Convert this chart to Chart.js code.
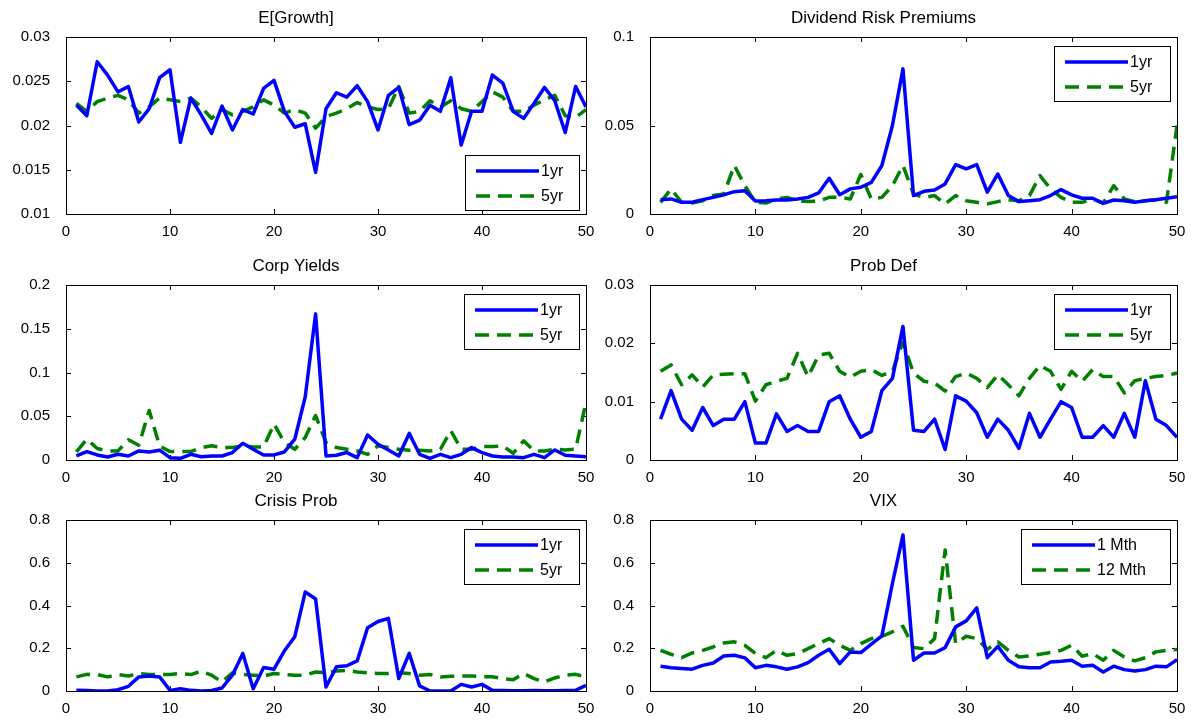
<!DOCTYPE html>
<html>
<head>
<meta charset="utf-8">
<script src="https://cdn.jsdelivr.net/npm/chart.js@4.4.1/dist/chart.umd.min.js"></script>
<style>
  body { margin: 0; background: #fff; }
  #fig { position: relative; width: 1196px; height: 723px; background: #fff; }
  .panel { position: absolute; }
</style>
</head>
<body>
<div id="fig"></div>
<script>
// x axis: forecast periods 1..50
const periods = Array.from({ length: 50 }, (_, i) => i + 1);

const growth1yr = [0.0223, 0.0211, 0.0272, 0.0257, 0.0238, 0.0244, 0.0204, 0.0219, 0.0254, 0.0263,
  0.0181, 0.0231, 0.0212, 0.0191, 0.0222, 0.0195, 0.0218, 0.0213, 0.0242, 0.0251,
  0.0216, 0.0198, 0.0202, 0.0147, 0.0219, 0.0237, 0.0232, 0.0245, 0.0227, 0.0195,
  0.0234, 0.0243, 0.0201, 0.0206, 0.0223, 0.0216, 0.0254, 0.0178, 0.0216, 0.0216,
  0.0257, 0.0248, 0.0216, 0.0208, 0.0225, 0.0243, 0.0228, 0.0192, 0.0244, 0.0221];
const growth5yr = [0.0225, 0.0216, 0.0227, 0.0231, 0.0234, 0.0229, 0.0214, 0.0221, 0.0231, 0.0229,
  0.0227, 0.0231, 0.0221, 0.0208, 0.0218, 0.0212, 0.0216, 0.0221, 0.0229, 0.0223,
  0.0214, 0.0218, 0.0214, 0.0197, 0.0210, 0.0214, 0.0219, 0.0226, 0.0221, 0.0218,
  0.0219, 0.0244, 0.0214, 0.0216, 0.0228, 0.0221, 0.0228, 0.0219, 0.0216, 0.0227,
  0.0238, 0.0232, 0.0216, 0.0216, 0.0223, 0.0229, 0.0234, 0.0211, 0.0209, 0.0218];

const div1yr = [0.0081, 0.0085, 0.0066, 0.0066, 0.0081, 0.0094, 0.0108, 0.0126, 0.0132, 0.0074,
  0.0075, 0.0079, 0.0079, 0.0085, 0.0094, 0.0119, 0.0202, 0.0109, 0.0142, 0.0151,
  0.0179, 0.0274, 0.0500, 0.0820, 0.0104, 0.0128, 0.0136, 0.0170, 0.0279, 0.0255,
  0.0279, 0.0123, 0.0226, 0.0104, 0.0070, 0.0075, 0.0081, 0.0104, 0.0138, 0.0108,
  0.0089, 0.0089, 0.0060, 0.0079, 0.0075, 0.0066, 0.0075, 0.0081, 0.0089, 0.0098];
const div5yr = [0.0066, 0.0142, 0.0066, 0.0062, 0.0075, 0.0104, 0.0113, 0.0274, 0.0160, 0.0066,
  0.0062, 0.0085, 0.0094, 0.0075, 0.0070, 0.0072, 0.0094, 0.0094, 0.0085, 0.0223,
  0.0085, 0.0094, 0.0160, 0.0274, 0.0113, 0.0094, 0.0104, 0.0057, 0.0104, 0.0075,
  0.0066, 0.0057, 0.0070, 0.0081, 0.0075, 0.0104, 0.0217, 0.0142, 0.0094, 0.0066,
  0.0066, 0.0085, 0.0062, 0.0160, 0.0085, 0.0070, 0.0075, 0.0081, 0.0066, 0.0500];

const corp1yr = [0.0046, 0.0096, 0.0058, 0.0035, 0.0065, 0.0046, 0.0104, 0.0092, 0.0112, 0.0027,
  0.0019, 0.0065, 0.0038, 0.0046, 0.0046, 0.0085, 0.0192, 0.0123, 0.0058, 0.0058,
  0.0092, 0.0239, 0.0720, 0.1670, 0.0046, 0.0054, 0.0085, 0.0027, 0.0285, 0.0180,
  0.0115, 0.0046, 0.0304, 0.0065, 0.0019, 0.0065, 0.0027, 0.0065, 0.0142, 0.0085,
  0.0046, 0.0035, 0.0035, 0.0027, 0.0065, 0.0027, 0.0115, 0.0054, 0.0046, 0.0038];
const corp5yr = [0.0092, 0.0239, 0.0131, 0.0104, 0.0104, 0.0231, 0.0169, 0.0566, 0.0160, 0.0096,
  0.0096, 0.0096, 0.0142, 0.0162, 0.0142, 0.0142, 0.0162, 0.0150, 0.0150, 0.0412,
  0.0200, 0.0123, 0.0258, 0.0508, 0.0200, 0.0142, 0.0123, 0.0104, 0.0065, 0.0162,
  0.0142, 0.0123, 0.0112, 0.0112, 0.0104, 0.0123, 0.0335, 0.0123, 0.0123, 0.0154,
  0.0154, 0.0162, 0.0077, 0.0219, 0.0104, 0.0104, 0.0123, 0.0115, 0.0123, 0.0660];

const pd1yr = [0.0070, 0.0119, 0.0070, 0.0051, 0.0090, 0.0059, 0.0070, 0.0070, 0.0100, 0.0029,
  0.0029, 0.0079, 0.0049, 0.0059, 0.0049, 0.0049, 0.0100, 0.0110, 0.0070, 0.0039,
  0.0049, 0.0119, 0.0140, 0.0229, 0.0051, 0.0049, 0.0070, 0.0018, 0.0110, 0.0101,
  0.0081, 0.0039, 0.0070, 0.0051, 0.0020, 0.0080, 0.0039, 0.0070, 0.0100, 0.0090,
  0.0039, 0.0039, 0.0059, 0.0039, 0.0080, 0.0039, 0.0136, 0.0070, 0.0059, 0.0039];
const pd5yr = [0.0152, 0.0163, 0.0129, 0.0146, 0.0125, 0.0146, 0.0147, 0.0148, 0.0148, 0.0101,
  0.0129, 0.0135, 0.0140, 0.0183, 0.0143, 0.0180, 0.0183, 0.0152, 0.0142, 0.0152,
  0.0155, 0.0145, 0.0152, 0.0202, 0.0149, 0.0135, 0.0132, 0.0118, 0.0143, 0.0149,
  0.0140, 0.0124, 0.0146, 0.0129, 0.0110, 0.0140, 0.0162, 0.0152, 0.0121, 0.0152,
  0.0135, 0.0155, 0.0143, 0.0143, 0.0115, 0.0136, 0.0140, 0.0143, 0.0145, 0.0149];

const crisis1yr = [0.003, 0.002, 0.000, 0.000, 0.006, 0.022, 0.066, 0.070, 0.066, 0.003,
  0.011, 0.003, 0.000, 0.002, 0.014, 0.074, 0.176, 0.011, 0.110, 0.102,
  0.188, 0.254, 0.463, 0.431, 0.019, 0.113, 0.118, 0.141, 0.296, 0.325,
  0.340, 0.058, 0.176, 0.024, 0.000, 0.000, 0.000, 0.031, 0.019, 0.031,
  0.003, 0.002, 0.001, 0.001, 0.002, 0.001, 0.001, 0.002, 0.003, 0.027];
const crisis5yr = [0.066, 0.078, 0.077, 0.066, 0.077, 0.070, 0.082, 0.077, 0.077, 0.077,
  0.082, 0.077, 0.093, 0.074, 0.042, 0.085, 0.077, 0.074, 0.070, 0.082,
  0.077, 0.074, 0.074, 0.089, 0.086, 0.093, 0.096, 0.089, 0.085, 0.082,
  0.082, 0.085, 0.082, 0.074, 0.077, 0.066, 0.069, 0.070, 0.070, 0.067,
  0.067, 0.058, 0.053, 0.082, 0.058, 0.042, 0.061, 0.074, 0.078, 0.066];

const vix1m = [0.116, 0.109, 0.105, 0.102, 0.120, 0.131, 0.164, 0.167, 0.155, 0.109,
  0.120, 0.113, 0.102, 0.113, 0.133, 0.167, 0.195, 0.128, 0.183, 0.180,
  0.219, 0.258, 0.503, 0.730, 0.144, 0.178, 0.178, 0.203, 0.300, 0.328,
  0.389, 0.156, 0.209, 0.144, 0.113, 0.109, 0.109, 0.136, 0.139, 0.144,
  0.116, 0.120, 0.089, 0.116, 0.100, 0.094, 0.100, 0.116, 0.113, 0.147];
const vix12m = [0.190, 0.172, 0.156, 0.178, 0.190, 0.206, 0.225, 0.230, 0.214, 0.175,
  0.156, 0.190, 0.167, 0.175, 0.198, 0.222, 0.245, 0.214, 0.190, 0.222,
  0.245, 0.256, 0.277, 0.303, 0.203, 0.198, 0.245, 0.660, 0.222, 0.256,
  0.245, 0.195, 0.230, 0.190, 0.159, 0.164, 0.172, 0.180, 0.190, 0.214,
  0.163, 0.175, 0.144, 0.190, 0.159, 0.141, 0.156, 0.183, 0.190, 0.194];

const FONT = '"Liberation Sans", Arial, sans-serif';

// axes box with inward tick marks, like matlab
const framePlugin = {
  id: 'frame',
  beforeDatasetsDraw(chart) {
    const { ctx, chartArea: a, scales } = chart;
    ctx.save();
    ctx.strokeStyle = '#000';
    ctx.lineWidth = 1;
    ctx.strokeRect(Math.round(a.left) + 0.5, Math.round(a.top) + 0.5, Math.round(a.width), Math.round(a.height));
    ctx.beginPath();
    scales.x.ticks.forEach(t => {
      const px = Math.round(scales.x.getPixelForValue(t.value)) + 0.5;
      ctx.moveTo(px, a.bottom); ctx.lineTo(px, a.bottom - 5);
      ctx.moveTo(px, a.top); ctx.lineTo(px, a.top + 5);
    });
    scales.y.ticks.forEach(t => {
      const py = Math.round(scales.y.getPixelForValue(t.value)) + 0.5;
      ctx.moveTo(a.left, py); ctx.lineTo(a.left + 5, py);
      ctx.moveTo(a.right, py); ctx.lineTo(a.right - 5, py);
    });
    ctx.stroke();
    ctx.restore();
  }
};

// boxed legend inside the axes
const boxLegend = {
  id: 'boxLegend',
  afterDatasetsDraw(chart, args, opts) {
    const { ctx, chartArea: a } = chart;
    const w = opts.width, h = 55;
    const bx = Math.round(a.right - 7 - w);
    const by = Math.round(opts.bottom ? a.bottom - 4 - h : a.top + 9);
    ctx.save();
    ctx.fillStyle = '#fff';
    ctx.fillRect(bx, by, w, h);
    ctx.strokeStyle = '#000';
    ctx.lineWidth = 1;
    ctx.strokeRect(bx + 0.5, by + 0.5, w, h);
    chart.data.datasets.forEach((ds, i) => {
      const ly = by + 16 + i * 25;
      ctx.beginPath();
      ctx.setLineDash(ds.borderDash || []);
      ctx.strokeStyle = ds.borderColor;
      ctx.lineWidth = ds.borderWidth;
      ctx.moveTo(bx + 11, ly);
      ctx.lineTo(bx + 74, ly);
      ctx.stroke();
      ctx.setLineDash([]);
      ctx.fillStyle = '#000';
      ctx.font = '16px ' + FONT;
      ctx.textBaseline = 'middle';
      ctx.fillText(ds.label, bx + 76, ly + 1);
    });
    ctx.restore();
  }
};

function drawPanel(pos, title, names, s1, s2, yMin, yMax, yStep, legend) {
  const wrap = document.createElement('div');
  wrap.className = 'panel';
  wrap.style.left = (pos.x - 60) + 'px';
  wrap.style.top = (pos.y - 32) + 'px';
  const canvas = document.createElement('canvas');
  canvas.width = pos.w + 74;
  canvas.height = pos.h + 60;
  wrap.appendChild(canvas);
  document.getElementById('fig').appendChild(wrap);

  new Chart(canvas, {
    type: 'line',
    data: {
      datasets: [{
        label: names[0],
        data: periods.map((p, i) => ({ x: p, y: s1[i] })),
        borderColor: '#0000ff',
        borderWidth: 3.5,
        borderJoinStyle: 'round',
        pointRadius: 0,
        tension: 0
      }, {
        label: names[1],
        data: periods.map((p, i) => ({ x: p, y: s2[i] })),
        borderColor: '#008000',
        borderWidth: 3.5,
        borderDash: [14, 8],
        borderJoinStyle: 'round',
        pointRadius: 0,
        tension: 0
      }]
    },
    options: {
      responsive: false,
      animation: false,
      layout: { padding: { left: 0, right: 14, top: 0, bottom: 0 } },
      plugins: {
        legend: { display: false },
        tooltip: { enabled: false },
        title: {
          display: true,
          text: title,
          color: '#000',
          font: { family: FONT, size: 17, weight: 'normal' },
          padding: { top: 3, bottom: 8.6 }
        },
        boxLegend: legend
      },
      scales: {
        x: {
          type: 'linear', min: 0, max: 50,
          grid: { display: false }, border: { display: false },
          ticks: { stepSize: 10, color: '#000', padding: 1, maxRotation: 0, font: { family: FONT, size: 15 } },
          afterFit: s => { s.height = 28; }
        },
        y: {
          min: yMin, max: yMax,
          grid: { display: false }, border: { display: false },
          ticks: {
            stepSize: yStep, color: '#000', padding: 8,
            font: { family: FONT, size: 15 },
            callback: v => String(+v.toFixed(4))
          },
          afterFit: s => { s.width = 60; }
        }
      }
    },
    plugins: [framePlugin, boxLegend]
  });
}

const L = 66, R = 650, WL = 520, WR = 527;
const yrs = ['1yr', '5yr'];

drawPanel({ x: L, y: 37, w: WL, h: 177 }, 'E[Growth]', yrs, growth1yr, growth5yr, 0.01, 0.03, 0.005, { width: 114, bottom: true });
drawPanel({ x: R, y: 37, w: WR, h: 177 }, 'Dividend Risk Premiums', yrs, div1yr, div5yr, 0, 0.1, 0.05, { width: 116 });
drawPanel({ x: L, y: 285, w: WL, h: 175 }, 'Corp Yields', yrs, corp1yr, corp5yr, 0, 0.2, 0.05, { width: 115 });
drawPanel({ x: R, y: 285, w: WR, h: 175 }, 'Prob Def', yrs, pd1yr, pd5yr, 0, 0.03, 0.01, { width: 116 });
drawPanel({ x: L, y: 520, w: WL, h: 171 }, 'Crisis Prob', yrs, crisis1yr, crisis5yr, 0, 0.8, 0.2, { width: 115 });
drawPanel({ x: R, y: 520, w: WR, h: 171 }, 'VIX', ['1 Mth', '12 Mth'], vix1m, vix12m, 0, 0.8, 0.2, { width: 149 });
</script>
</body>
</html>
